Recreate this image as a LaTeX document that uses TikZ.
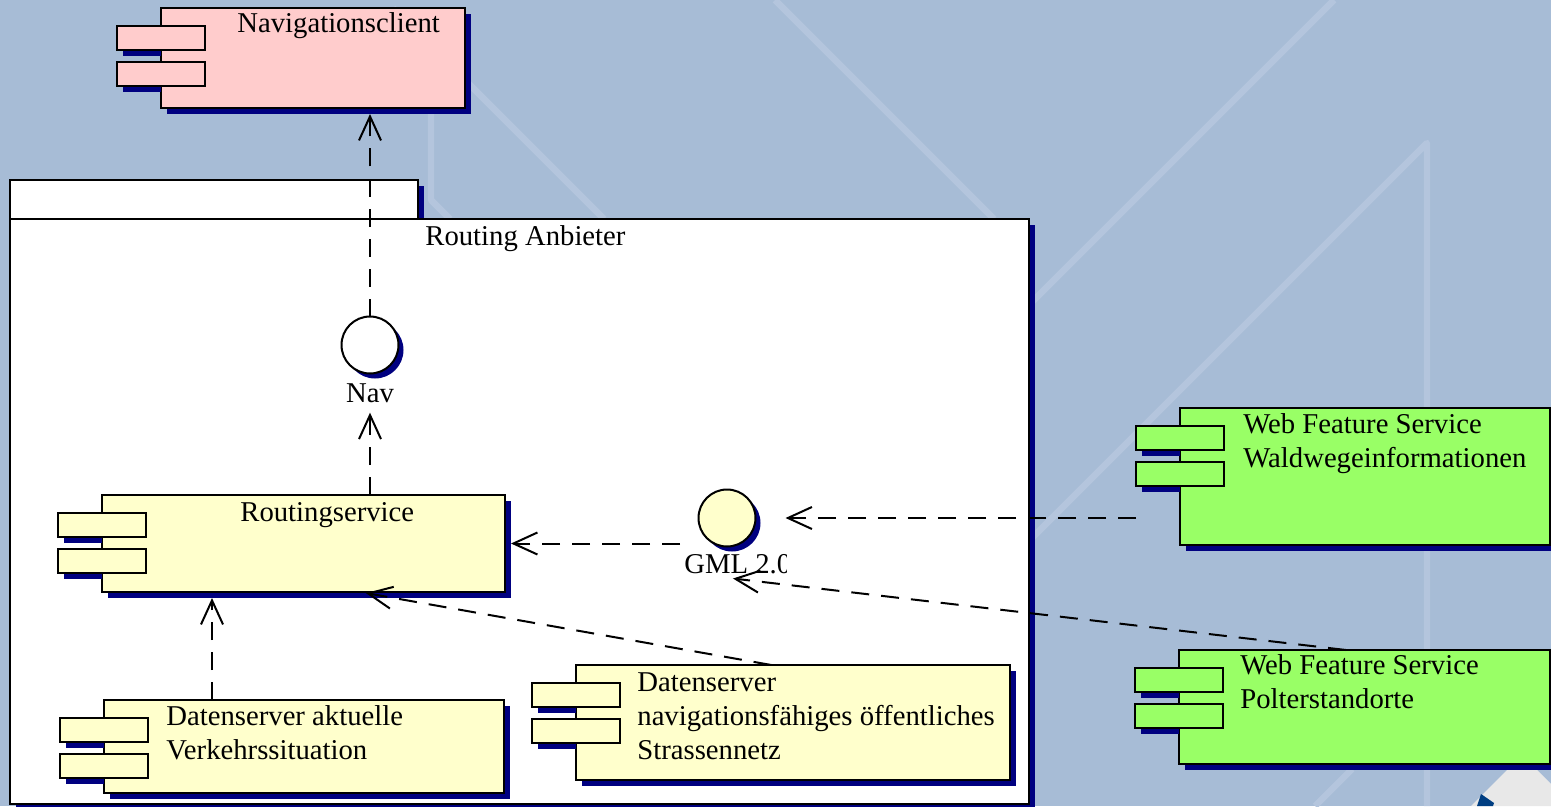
\documentclass[tikz,border=0pt]{standalone}
\usepackage{fontspec}
\setmainfont{Liberation Serif}
\usetikzlibrary{arrows.meta,shadows,calc}

\definecolor{bgc}{RGB}{167,188,214}
\definecolor{bglinec}{RGB}{180,197,221}
\definecolor{navyc}{RGB}{0,0,128}
\definecolor{pinkc}{RGB}{255,204,204}
\definecolor{yellowc}{RGB}{255,255,204}
\definecolor{greenc}{RGB}{153,255,102}
\definecolor{logogreyc}{RGB}{232,232,232}
\definecolor{logobluec}{RGB}{0,62,130}

\begin{document}
\begin{tikzpicture}[x=0.5bp,y=-0.5bp,>={Straight Barb[length=12bp,width=11bp]},
	every node/.style={font=\fontsize{14.35bp}{17bp}\selectfont},
	dropnavy/.style={drop shadow={shadow xshift=#1,shadow yshift=-#1,fill=navyc,opacity=1}},
	compbox/.style={draw,line width=1bp,anchor=north west,inner sep=0,outer sep=0,dropnavy=3bp},
	port/.style={draw,line width=1bp,inner sep=0,outer sep=0,minimum width=44bp,minimum height=12bp},
	iface/.style={circle,draw,line width=1bp,inner sep=0,outer sep=0,minimum size=28.5bp,dropnavy=2.5bp},
	txt/.style={anchor=base west,inner sep=0,align=left},
	dep/.style={->,line width=1bp,dash pattern=on 9bp off 6bp,shorten >=3bp},
	bgline/.style={bglinec,line width=3.2bp,line join=round}]
	\useasboundingbox (0,0) rectangle (1551,806);
	\fill [bgc] (0,0) rectangle (1551,806);
	\draw [bgline] (431,60) -- (431,200) -- (450,219);
	\draw [bgline] (393,8) -- (604,219);
	\draw [bgline] (775,0) -- (994,219);
	\draw [bgline] (1334,0) -- (1029,305);
	\draw [bgline] (1427,806) -- (1427,143) -- (1029,541);
	\draw [bgline] (1352,769) -- (1315,806);
	\fill [logogreyc] (1507,770) -- (1537,770) -- (1551,784) -- (1551,806) -- (1471,806) -- cycle;
	\fill [logobluec] (1481,794) -- (1494,803) -- (1493,806) -- (1477,806) -- cycle;

	\node (rat) at (10,180)   [compbox, fill=white,   minimum width=204bp,   minimum height=19.5bp]  {};
	\node (ra)  at (10,219)   [compbox, fill=white,   minimum width=509.5bp, minimum height=292.5bp] {};
	\node (nc)  at (161,8)    [compbox, fill=pinkc,   minimum width=152bp,   minimum height=50bp]    {};
	\node (rs)  at (102,495)  [compbox, fill=yellowc, minimum width=201.5bp, minimum height=48.5bp]  {};
	\node (dak) at (104,700)  [compbox, fill=yellowc, minimum width=200bp,   minimum height=46.5bp]  {};
	\node (dsn) at (576,665)  [compbox, fill=yellowc, minimum width=217bp,   minimum height=57.5bp]  {};
	\node (wfw) at (1180,408) [compbox, fill=greenc,  minimum width=185bp,   minimum height=68.5bp]  {};
	\node (wfp) at (1179,650) [compbox, fill=greenc,  minimum width=185.5bp, minimum height=57bp]    {};

	\foreach \c/\col in {nc/pinkc, rs/yellowc, dak/yellowc, dsn/yellowc, wfw/greenc, wfp/greenc}
		\foreach \i/\dy in {1/30, 2/66} {
			\fill [navyc] ($(\c.north west)+(-38,\dy+12)$) rectangle ($(\c.north west)+(0,\dy+18)$);
			\node (\c-p\i) at ($(\c.north west)+(0,\dy)$) [port, fill=\col] {};
		}

	% multi-line texts sit on the baseline of their last line
	\node (ra-txt)  at (425,245)  [txt] {Routing Anbieter};
	\node (nc-txt)  at (237,32)   [txt] {Navigationsclient};
	\node (rs-txt)  at (240,521)  [txt] {Routingservice};
	\node (dak-txt) at (166,759)  [txt] {Datenserver aktuelle\\Verkehrssituation};
	\node (dsn-txt) at (637,759)  [txt] {Datenserver\\navigationsfähiges öffentliches\\Strassennetz};
	\node (wfw-txt) at (1243,467) [txt] {Web Feature Service\\Waldwegeinformationen};
	\node (wfp-txt) at (1240,708) [txt] {Web Feature Service\\Polterstandorte};

	\node (navc) at (370,345) [iface, fill=white]   {};
	\node (navl) at (370,402) [anchor=base, inner sep=2bp] {Nav};
	\node (gmlc) at (727,518) [iface, fill=yellowc] {};
	\begin{scope}
		\clip (676,550) rectangle (786,595);
		\node (gmll) at (680,573) [txt, inner sep=2bp] {GML 2.0};
	\end{scope}

	\draw [dep] (navc) -- (navc |- nc.south);
	\draw [dep] (navl |- rs.north) -- (navl);
	\draw [dep] (gmll.west |- rs.east) -- (rs.east);
	\draw [dep] (wfw-p1.west |- gmlc) -- ($(gmlc.east)+(24,0)$);
	\draw [dep] ($(wfp.north west)!.45!(wfp.north east)$) -- (gmlc |- gmll.south);
	\draw [dep] ($(dsn.north west)!.45!(dsn.north east)$) -- ($(rs.south west)!.64!(rs.south east)$);
	\draw [dep] ($(dak.north west)!.27!(dak.north east)$) coordinate (dak-top) -- (dak-top |- rs.south);
\end{tikzpicture}
\end{document}
